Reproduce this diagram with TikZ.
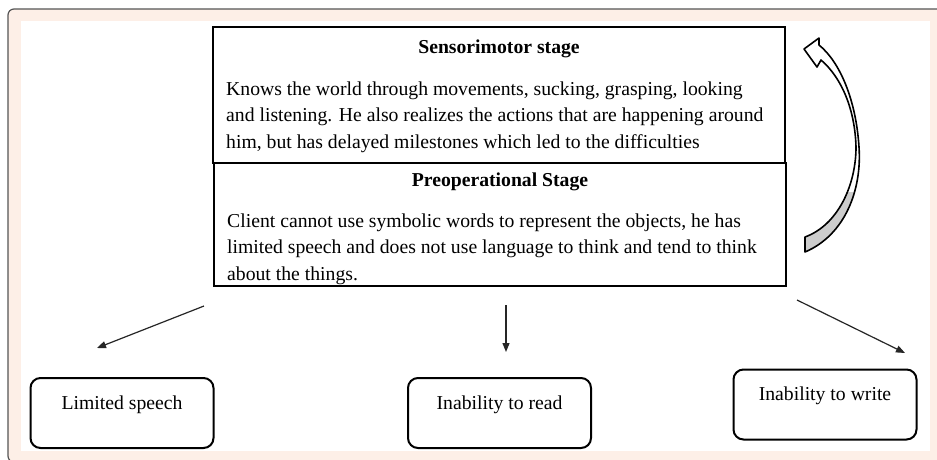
\documentclass[tikz,border=0pt]{standalone}
\usepackage{fontspec}
\setmainfont{Liberation Serif}
\usetikzlibrary{arrows.meta,positioning,calc}
\definecolor{peach}{RGB}{253,239,231}
\definecolor{framegray}{RGB}{85,85,85}
\definecolor{twistgray}{RGB}{205,205,205}

\tikzset{
  stagebox/.style={draw, line width=2pt, fill=white, inner sep=0pt},
  stagetitle/.style={font=\fontsize{19.7}{26.5}\selectfont\bfseries, inner sep=0pt},
  stagetext/.style={font=\fontsize{19.7}{26.5}\selectfont, align=left, inner sep=0pt},
  outcome/.style={draw, line width=2pt, rounded corners=10pt, fill=white, minimum width=183pt,
    inner xsep=0pt, inner ysep=0pt, text height=31pt, text depth=39pt, font=\fontsize{19.7}{24}\selectfont},
  leadto/.style={-{Triangle[length=9pt,width=7pt]}, line width=1.2pt, black!85}
}

\begin{document}
\begin{tikzpicture}[x=1pt, y=-1pt]
    \useasboundingbox (0,0) rectangle (937,459);
    % page background
    \fill[white] (0,0) rectangle (937,459);
    \begin{scope}
        \clip (0,0) rectangle (937,459);
        \fill[peach, rounded corners=6pt] (8,9) rectangle (960,470);
        \draw[framegray, line width=1.2pt, rounded corners=6pt] (960,9) -- (8,9) -- (8,462) -- (40,462);
    \end{scope}
    \fill[white] (21,21) rectangle (930,451);

    % the two stages
    \node[stagebox, minimum width=572pt, minimum height=136pt, anchor=north west] (sens) at (212,26) {};
    \node[stagebox, minimum width=572pt, minimum height=123pt, anchor=north west] (preop) at (213,162) {};

    \node[stagetitle, anchor=base] (senstitle) at ($(sens.north)+(0,27)$) {Sensorimotor stage};
    \node[stagetext, anchor=base west] (senstext) at ($(sens.north west)+(14,122)$)
        {Knows the world through movements, sucking, grasping, looking\\
         and listening. He also realizes the actions that are happening around\\
         him, but has delayed milestones which led to the difficulties};

    \node[stagetitle, anchor=base] (preoptitle) at ($(preop.north)+(0,24)$) {Preoperational Stage};
    \begin{scope}
        \clip ($(preop.north west)+(1,1)$) rectangle ($(preop.south east)+(-1,-1)$);
        \node[stagetext, anchor=base west] (preoptext) at ($(preop.north west)+(14,118)$)
            {Client cannot use symbolic words to represent the objects, he has\\
             limited speech and does not use language to think and tend to think\\
             about the things.};
    \end{scope}

    % turning arrow
    \draw[line width=1.6pt, line join=round, fill=white,
          path picture={\fill[twistgray] (790,192) rectangle (870,260);}]
        (805,252) .. controls (845,235) and (862,190) .. (859,147)
        .. controls (856,100) and (840,62) .. (819,45)
        -- (819,38) -- (804,49) -- (817,67) -- (821,60)
        .. controls (842,78) and (855,110) .. (856,147)
        .. controls (856,185) and (838,225) .. (805,237) -- cycle;

    % outcomes
    \node[outcome] (speech) at (122,413) {Limited speech};
    \node[outcome] (read) at (499.5,413) {Inability to read};
    \node[outcome] (write) at (825,404.5) {Inability to write};

    \coordinate (fromspeech) at (204,306);
    \coordinate (tospeech) at (97,348);
    \coordinate (fromread) at (506,305);
    \coordinate (toread) at (506,352);
    \coordinate (fromwrite) at (797,300);
    \coordinate (towrite) at (905,353);

    \draw[leadto] (fromspeech) -- (tospeech);
    \draw[leadto] (fromread) -- (toread);
    \draw[leadto] (fromwrite) -- (towrite);
\end{tikzpicture}
\end{document}
